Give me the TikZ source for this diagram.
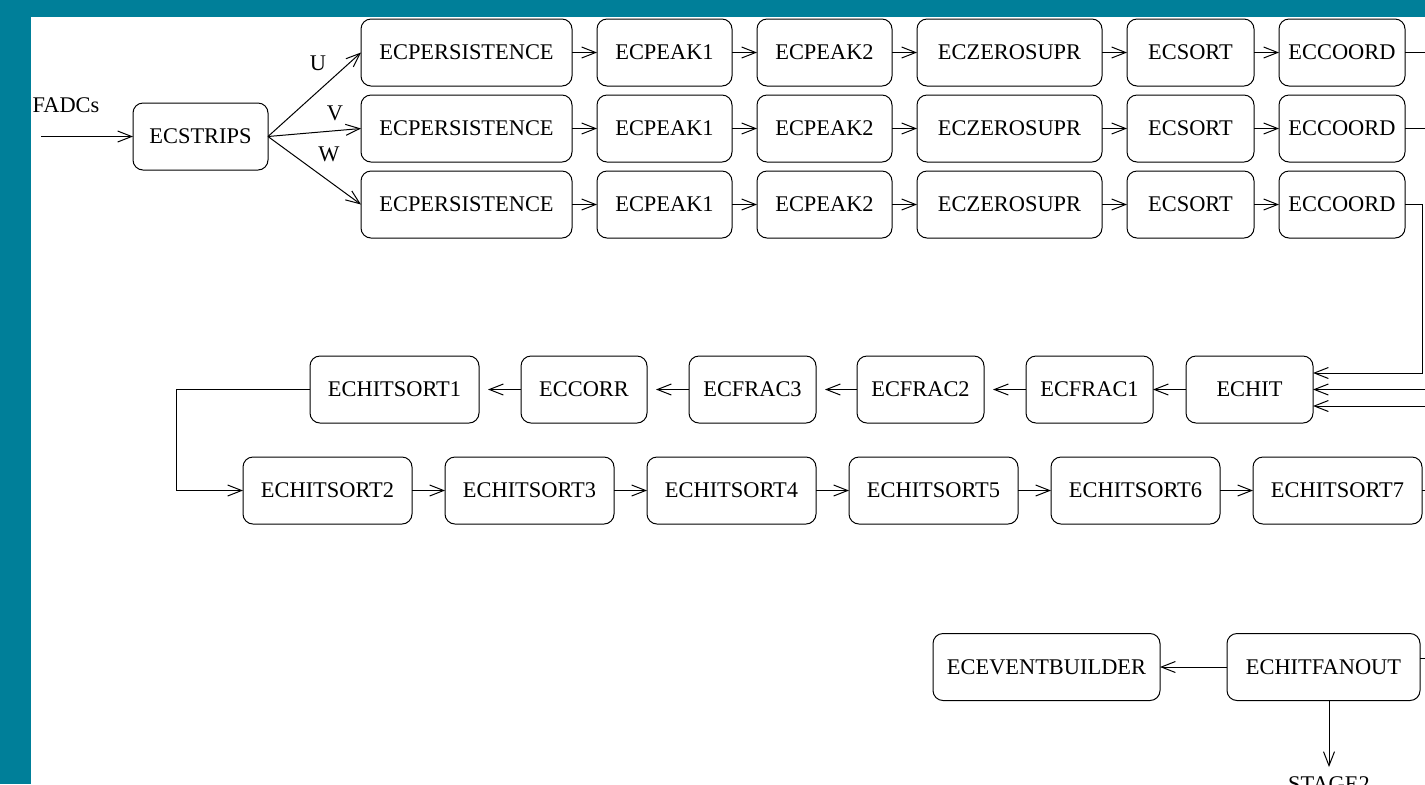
\documentclass[tikz,border=0pt]{standalone}
\usepackage{fontspec}
\setmainfont{Liberation Serif}
\usetikzlibrary{positioning,arrows.meta}
\definecolor{bgteal}{RGB}{0,127,153}

\begin{document}
\begin{tikzpicture}[x=0.5pt,y=-0.5pt,
    font=\fontsize{11.2}{13.4}\selectfont,
    module/.style={draw,rounded corners=5pt,minimum height=33.5pt,inner sep=0pt,outer sep=0pt,line width=0.5pt},
    flow/.style={-{Straight Barb[length=7pt,width=5.5pt]},line width=0.5pt},
    wire/.style={line width=0.5pt},
    node distance=12.5pt]
  \clip (0,0) rectangle (1425,784);
  \fill[bgteal] (0,0) rectangle (1425,784);
  \fill[white] (31,17) rectangle (1425,784);

  % input
  \node (fadcs) at (66,105) {FADCs};
  \coordinate (fadcsin) at (41,136.5);
  \node[module,minimum width=67.5pt] (strips) at (200.5,136.5) {ECSTRIPS};

  % U view
  \node[module,minimum width=105.5pt,anchor=west] (persU) at (361,52.5) {ECPERSISTENCE};
  \node[module,minimum width=67.5pt,right=of persU] (peakaU) {ECPEAK1};
  \node[module,minimum width=67.5pt,right=of peakaU] (peakbU) {ECPEAK2};
  \node[module,minimum width=92.5pt,right=of peakbU] (zeroU) {ECZEROSUPR};
  \node[module,minimum width=63.5pt,right=of zeroU] (sortU) {ECSORT};
  \node[module,minimum width=63pt,right=of sortU] (coordU) {ECCOORD};

  % V view
  \node[module,minimum width=105.5pt,anchor=west] (persV) at (361,128.5) {ECPERSISTENCE};
  \node[module,minimum width=67.5pt,right=of persV] (peakaV) {ECPEAK1};
  \node[module,minimum width=67.5pt,right=of peakaV] (peakbV) {ECPEAK2};
  \node[module,minimum width=92.5pt,right=of peakbV] (zeroV) {ECZEROSUPR};
  \node[module,minimum width=63.5pt,right=of zeroV] (sortV) {ECSORT};
  \node[module,minimum width=63pt,right=of sortV] (coordV) {ECCOORD};

  % W view
  \node[module,minimum width=105.5pt,anchor=west] (persW) at (361,204.5) {ECPERSISTENCE};
  \node[module,minimum width=67.5pt,right=of persW] (peakaW) {ECPEAK1};
  \node[module,minimum width=67.5pt,right=of peakaW] (peakbW) {ECPEAK2};
  \node[module,minimum width=92.5pt,right=of peakbW] (zeroW) {ECZEROSUPR};
  \node[module,minimum width=63.5pt,right=of zeroW] (sortW) {ECSORT};
  \node[module,minimum width=63pt,right=of sortW] (coordW) {ECCOORD};

  \node (lblU) at (318,63) {U};
  \node (lblV) at (335,113) {V};
  \node (lblW) at (329,154) {W};

  % hits, going back to the left
  \node[module,minimum width=63.5pt] (echit) at (1249.5,389.5) {ECHIT};
  \node[module,minimum width=63.5pt,left=16.5pt of echit] (fraca) {ECFRAC1};
  \node[module,minimum width=63.5pt,left=21pt of fraca] (fracb) {ECFRAC2};
  \node[module,minimum width=63.5pt,left=20.5pt of fracb] (fracc) {ECFRAC3};
  \node[module,minimum width=63pt,left=21pt of fracc] (corr) {ECCORR};
  \node[module,minimum width=84.5pt,left=21pt of corr] (hsorta) {ECHITSORT1};

  % hit sorting
  \node[module,minimum width=84.5pt,anchor=west] (hsortb) at (243,490.5) {ECHITSORT2};
  \node[module,minimum width=84.5pt,right=16.5pt of hsortb] (hsortc) {ECHITSORT3};
  \node[module,minimum width=84.5pt,right=16.5pt of hsortc] (hsortd) {ECHITSORT4};
  \node[module,minimum width=84.5pt,right=16.5pt of hsortd] (hsorte) {ECHITSORT5};
  \node[module,minimum width=84.5pt,right=16.5pt of hsorte] (hsortf) {ECHITSORT6};
  \node[module,minimum width=84.5pt,right=16.5pt of hsortf] (hsortg) {ECHITSORT7};

  % output
  \node[module,minimum width=96.5pt,anchor=east] (fanout) at (1420,667) {ECHITFANOUT};
  \node[module,minimum width=113.5pt,left=33.5pt of fanout] (evbuild) {ECEVENTBUILDER};
  \node[inner sep=4.5pt,anchor=north] (stage2) at (1329,767) {STAGE2};

  \coordinate (edge) at (1440,0);
  \coordinate (turn) at (1422,373);
  \coordinate (inU) at (1440,389.5);
  \coordinate (inV) at (1440,406);
  \coordinate (loop) at (176,0);
  \coordinate (fanin) at (1440,658);

  \draw[flow] (fadcsin) -- (strips);
  \draw[flow] (strips.east) -- (persU.west);
  \draw[flow] (strips.east) -- (persV.west);
  \draw[flow] (strips.east) -- (persW.west);

  \draw[flow] (persU) -- (peakaU);
  \draw[flow] (peakaU) -- (peakbU);
  \draw[flow] (peakbU) -- (zeroU);
  \draw[flow] (zeroU) -- (sortU);
  \draw[flow] (sortU) -- (coordU);
  \draw[wire] (coordU.east) -- (coordU.east -| edge);

  \draw[flow] (persV) -- (peakaV);
  \draw[flow] (peakaV) -- (peakbV);
  \draw[flow] (peakbV) -- (zeroV);
  \draw[flow] (zeroV) -- (sortV);
  \draw[flow] (sortV) -- (coordV);
  \draw[wire] (coordV.east) -- (coordV.east -| edge);

  \draw[flow] (persW) -- (peakaW);
  \draw[flow] (peakaW) -- (peakbW);
  \draw[flow] (peakbW) -- (zeroW);
  \draw[flow] (zeroW) -- (sortW);
  \draw[flow] (sortW) -- (coordW);
  \draw[flow] (coordW.east) -| (turn) -- (echit.east |- turn);
  \draw[flow] (inU) -- (echit.east |- inU);
  \draw[flow] (inV) -- (echit.east |- inV);

  \draw[flow] (echit) -- (fraca);
  \draw[flow,shorten >=4.5pt] (fraca) -- (fracb);
  \draw[flow,shorten >=4.5pt] (fracb) -- (fracc);
  \draw[flow,shorten >=4.5pt] (fracc) -- (corr);
  \draw[flow,shorten >=4.5pt] (corr) -- (hsorta);
  \draw[flow] (hsorta.west) -- (hsorta.west -| loop) |- (hsortb.west);

  \draw[flow] (hsortb) -- (hsortc);
  \draw[flow] (hsortc) -- (hsortd);
  \draw[flow] (hsortd) -- (hsorte);
  \draw[flow] (hsorte) -- (hsortf);
  \draw[flow] (hsortf) -- (hsortg);
  \draw[wire] (hsortg.east) -- (hsortg.east -| edge);

  \draw[wire] (fanin) -- (fanout.east |- fanin);
  \draw[flow] (fanout) -- (evbuild);
  \draw[flow] (fanout.south -| stage2) -- (stage2.north);
\end{tikzpicture}
\end{document}
